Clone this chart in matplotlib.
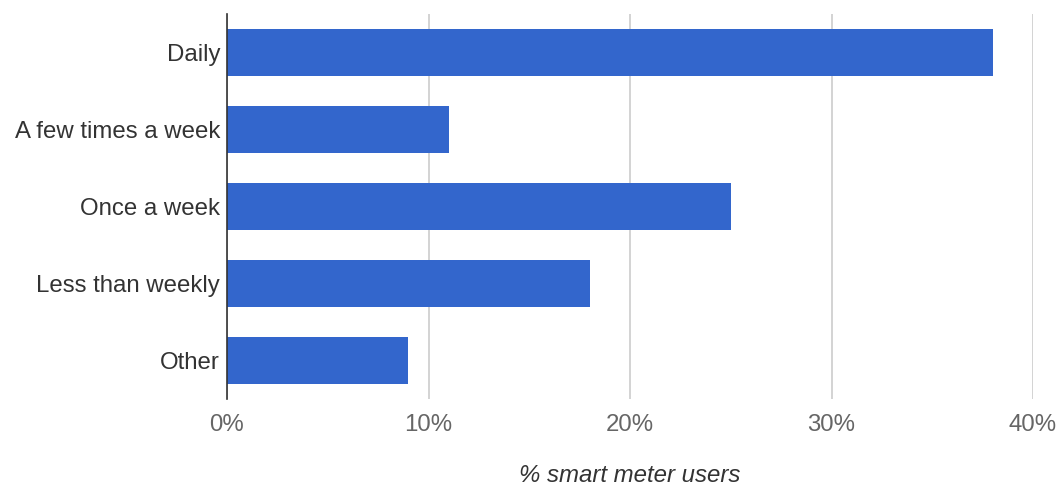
import matplotlib
matplotlib.use("Agg")
import matplotlib.pyplot as plt
from matplotlib.ticker import FuncFormatter

categories = ["Daily", "A few times a week", "Once a week", "Less than weekly", "Other"]
values = [38, 11, 25, 18, 9]
xticks = [0, 10, 20, 30, 40]

plt.rcParams['font.family'] = ['Liberation Sans', 'DejaVu Sans']

fig = plt.figure(figsize=(10.61, 4.87), dpi=100)
ax = fig.add_axes([227/1061, 1-399/487, (1033-227)/1061, (399-14)/487])

y = list(range(len(categories)))
ax.barh(y, values, height=0.61, color="#3366cc", zorder=3)
ax.set_ylim(len(categories)-0.5, -0.5)
ax.set_xlim(0, 40)
ax.set_yticks(y)
ax.set_yticklabels(categories, fontsize=17.3, color="#333333")
ax.set_xticks(xticks)
ax.xaxis.set_major_formatter(FuncFormatter(lambda v, p: f"{v:.0f}%"))
ax.tick_params(axis='x', length=0, pad=11, labelsize=17.3, labelcolor="#666666")
ax.tick_params(axis='y', length=0, pad=5)
ax.grid(axis='x', color="#cccccc", linewidth=1.2, zorder=0)
for s in ['top', 'right', 'bottom']:
    ax.spines[s].set_visible(False)
ax.spines['left'].set_color("#333333")
ax.spines['left'].set_linewidth(1.2)
ax.spines['left'].set_zorder(4)
ax.set_xlabel("% smart meter users", fontsize=17.3, style='italic', color="#333333", labelpad=20)

fig.savefig("out.png", dpi=100)
